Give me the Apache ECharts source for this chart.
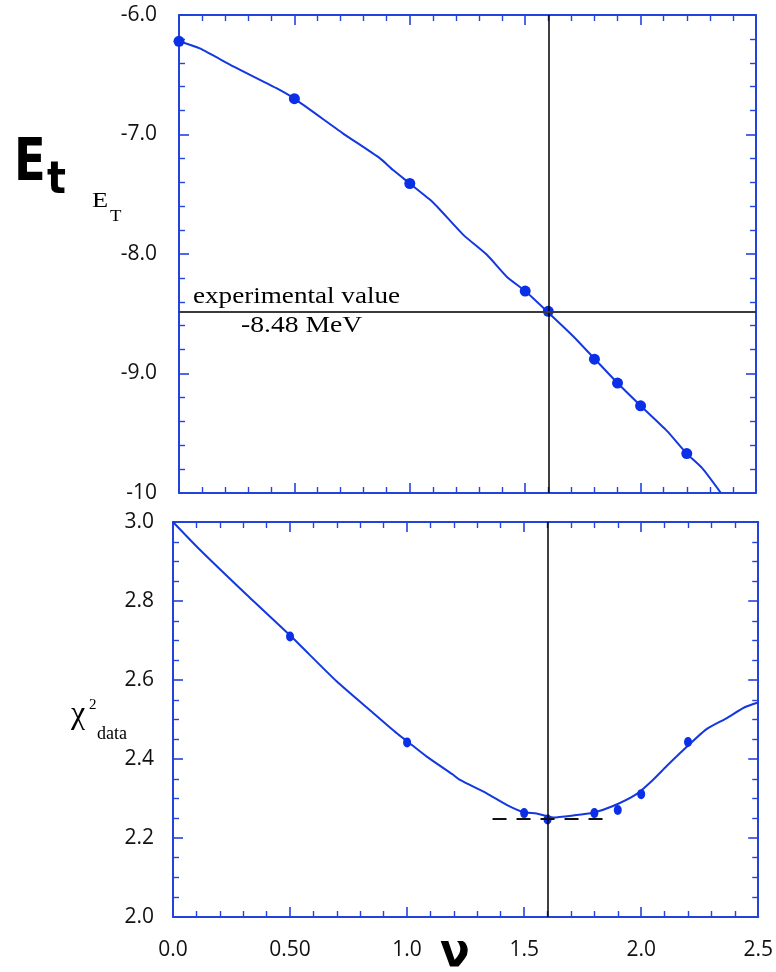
<!DOCTYPE html>
<html>
<head>
<meta charset="utf-8">
<script src="https://cdn.jsdelivr.net/npm/echarts@6/dist/echarts.min.js"></script>
<style>
html,body{margin:0;padding:0;background:#fff;}
#chart{width:776px;height:972px;}
</style>
</head>
<body>
<div id="chart"></div>
<script>
// ---- data ----
const nuTop = [0.0, 0.5, 1.0, 1.5, 1.6, 1.8, 1.9, 2.0, 2.2];
const energyTop = [-6.22, -6.70, -7.41, -8.31, -8.48, -8.88, -9.08, -9.27, -9.67];

const curveTopNu = [0.0, 0.09, 0.235, 0.42, 0.5, 0.71, 0.871, 0.929, 1.0, 1.088, 1.131, 1.232, 1.334, 1.42, 1.5, 1.6, 1.709, 1.8, 1.9, 2.0, 2.114, 2.2, 2.266, 2.348];
const curveTopE  = [-6.22, -6.28, -6.43, -6.61, -6.70, -6.99, -7.20, -7.30, -7.41, -7.547, -7.63, -7.84, -8.007, -8.19, -8.31, -8.49, -8.69, -8.876, -9.08, -9.27, -9.48, -9.67, -9.79, -10.0];

const nuBottom = [0.5, 1.0, 1.5, 1.6, 1.8, 1.9, 2.0, 2.2];
const chi2Bottom = [2.71, 2.442, 2.263, 2.247, 2.263, 2.271, 2.311, 2.443];

const curveBottomNu  = [0.0, 0.116, 0.316, 0.505, 0.70, 0.856, 0.956, 1.0, 1.084, 1.197, 1.226, 1.34, 1.425, 1.5, 1.553, 1.624, 1.709, 1.794, 1.88, 1.98, 2.05, 2.107, 2.164, 2.278, 2.364, 2.442, 2.5];
const curveBottomChi = [3.0, 2.929, 2.815, 2.71, 2.596, 2.516, 2.465, 2.445, 2.406, 2.36, 2.347, 2.313, 2.284, 2.265, 2.262, 2.252, 2.257, 2.264, 2.281, 2.311, 2.347, 2.381, 2.414, 2.475, 2.503, 2.531, 2.543];

const nuBest = 1.6;
const expValue = -8.48;
const chi2Min = 2.25;
const chi2MinRange = [1.365, 1.86];

const xTickValues = [0, 0.5, 1.0, 1.5, 2.0, 2.5];
const xTickLabels = ['0.0', '0.50', '1.0', '1.5', '2.0', '2.5'];
const topYTickValues = [-10, -9, -8, -7, -6];
const topYTickLabels = ['-10', '-9.0', '-8.0', '-7.0', '-6.0'];
const bottomYTickValues = [2.0, 2.2, 2.4, 2.6, 2.8, 3.0];
const bottomYTickLabels = ['2.0', '2.2', '2.4', '2.6', '2.8', '3.0'];

// ---- styles ----
const AXIS = '#2443dc';
const CURVE = '#1438e0';
const DOT = '#0a2fe6';
const LABEL_FONT = '"Open Sans", "DejaVu Sans", sans-serif';

function lookup(values, labels) {
  return function (v) {
    for (let i = 0; i < values.length; i++) {
      if (Math.abs(values[i] - v) < 1e-6) return labels[i];
    }
    return '';
  };
}
function pairs(xs, ys) { return xs.map((x, i) => [x, ys[i]]); }

function axisBase(extra) {
  return Object.assign({
    type: 'value',
    axisLine: { show: true, onZero: false, lineStyle: { color: AXIS, width: 2 } },
    axisTick: { show: true, inside: true, length: 10, lineStyle: { color: AXIS, width: 1.6 } },
    minorTick: { show: true, splitNumber: 5, length: 6, lineStyle: { color: AXIS, width: 1.4 } },
    splitLine: { show: false },
    minorSplitLine: { show: false },
    axisLabel: { show: false }
  }, extra);
}
const labelStyle = (margin, fmt) => ({
  show: true, margin: margin, color: '#111', fontSize: 21, fontFamily: LABEL_FONT,
  formatter: fmt, showMinLabel: true, showMaxLabel: true
});

const chart = echarts.init(document.getElementById('chart'), null, { renderer: 'canvas' });

const option = {
  animation: false,
  backgroundColor: '#fff',
  grid: [
    { left: 179, top: 15, width: 577, height: 478 },
    { left: 173, top: 522, width: 586, height: 395 }
  ],
  xAxis: [
    axisBase({ gridIndex: 0, position: 'bottom', min: 0, max: 2.5, interval: 0.5 }),
    axisBase({ gridIndex: 0, position: 'top', min: 0, max: 2.5, interval: 0.5 }),
    axisBase({ gridIndex: 1, position: 'bottom', min: 0, max: 2.5, interval: 0.5,
      axisLabel: labelStyle(23, lookup(xTickValues, xTickLabels)) }),
    axisBase({ gridIndex: 1, position: 'top', min: 0, max: 2.5, interval: 0.5 })
  ],
  yAxis: [
    axisBase({ gridIndex: 0, position: 'left', min: -10, max: -6, interval: 1,
      axisLabel: labelStyle(22, lookup(topYTickValues, topYTickLabels)) }),
    axisBase({ gridIndex: 0, position: 'right', min: -10, max: -6, interval: 1 }),
    axisBase({ gridIndex: 1, position: 'left', min: 2.0, max: 3.0, interval: 0.2,
      minorTick: { show: true, splitNumber: 4, length: 6, lineStyle: { color: AXIS, width: 1.4 } },
      axisLabel: labelStyle(19, lookup(bottomYTickValues, bottomYTickLabels)) }),
    axisBase({ gridIndex: 1, position: 'right', min: 2.0, max: 3.0, interval: 0.2,
      minorTick: { show: true, splitNumber: 4, length: 6, lineStyle: { color: AXIS, width: 1.4 } } })
  ],
  series: [
    {
      type: 'line', xAxisIndex: 0, yAxisIndex: 0, data: pairs(curveTopNu, curveTopE),
      showSymbol: false, smooth: 0.2, lineStyle: { color: CURVE, width: 2 }, z: 3,
      markLine: {
        silent: true, symbol: 'none', label: { show: false }, animation: false,
        data: [
          { xAxis: nuBest, lineStyle: { color: '#000', width: 1.5, type: 'solid' } },
          { yAxis: expValue, lineStyle: { color: '#3a3a3a', width: 2, type: 'solid' } }
        ]
      }
    },
    {
      type: 'scatter', xAxisIndex: 0, yAxisIndex: 0, data: pairs(nuTop, energyTop),
      symbol: 'circle', symbolSize: 11, itemStyle: { color: DOT, opacity: 1 }, z: 4
    },
    {
      type: 'line', xAxisIndex: 2, yAxisIndex: 2, data: pairs(curveBottomNu, curveBottomChi),
      showSymbol: false, smooth: 0.2, lineStyle: { color: CURVE, width: 2 }, z: 3,
      markLine: {
        silent: true, symbol: 'none', label: { show: false }, animation: false,
        data: [
          { xAxis: nuBest, lineStyle: { color: '#000', width: 1.5, type: 'solid' } },
          [
            { coord: [chi2MinRange[0], chi2Min], lineStyle: { color: '#111', width: 2, type: [14, 10] } },
            { coord: [chi2MinRange[1], chi2Min] }
          ]
        ]
      }
    },
    {
      type: 'scatter', xAxisIndex: 2, yAxisIndex: 2, data: pairs(nuBottom, chi2Bottom),
      symbol: 'circle', symbolSize: [8, 10], itemStyle: { color: DOT, opacity: 1 }, z: 4
    }
  ]
};
chart.setOption(option);

// ---- text annotations (placed relative to the experimental line) ----
const expPx = chart.convertToPixel({ xAxisIndex: 0, yAxisIndex: 0 }, [0, expValue]);
const serif = '"Liberation Serif", "DejaVu Serif", serif';
function txt(text, x, baseline, size, family, weight, scaleX) {
  return {
    type: 'text', x: x, y: baseline - 0.3 * size, scaleX: scaleX || 1,
    style: { text: text, fontSize: size, fontFamily: family, fontWeight: weight || 'normal',
      fill: '#000', textAlign: 'left', textVerticalAlign: 'middle' }, z: 100
  };
}
const graphics = [
  txt('experimental value', expPx[0] + 14, expPx[1] - 7, 24, serif, 'normal', 1.13),
  txt(expValue.toFixed(2) + ' MeV', expPx[0] + 62, expPx[1] + 21.5, 24, serif, 'normal', 1.15),
  // big E_t
  txt('E', 14, 182, 58, '"DejaVu Sans", sans-serif', 'bold', 0.8),
  txt('t', 47, 195, 44, '"DejaVu Sans", sans-serif', 'bold', 0.9),
  // E_T
  txt('E', 92, 208, 22, serif, 'normal', 1.2),
  txt('T', 110, 222, 17, serif, 'normal', 1.1),
  // chi^2_data
  txt('\u03c7', 71, 724, 32, serif, 'normal', 1.0),
  txt('2', 89, 710, 15, serif),
  txt('data', 97, 740, 18, serif),
  // nu
  txt('\u03bd', 440, 968, 46, '"DejaVu Sans", sans-serif', 'bold', 0.95)
];
chart.setOption({ graphic: graphics });
</script>
</body>
</html>
